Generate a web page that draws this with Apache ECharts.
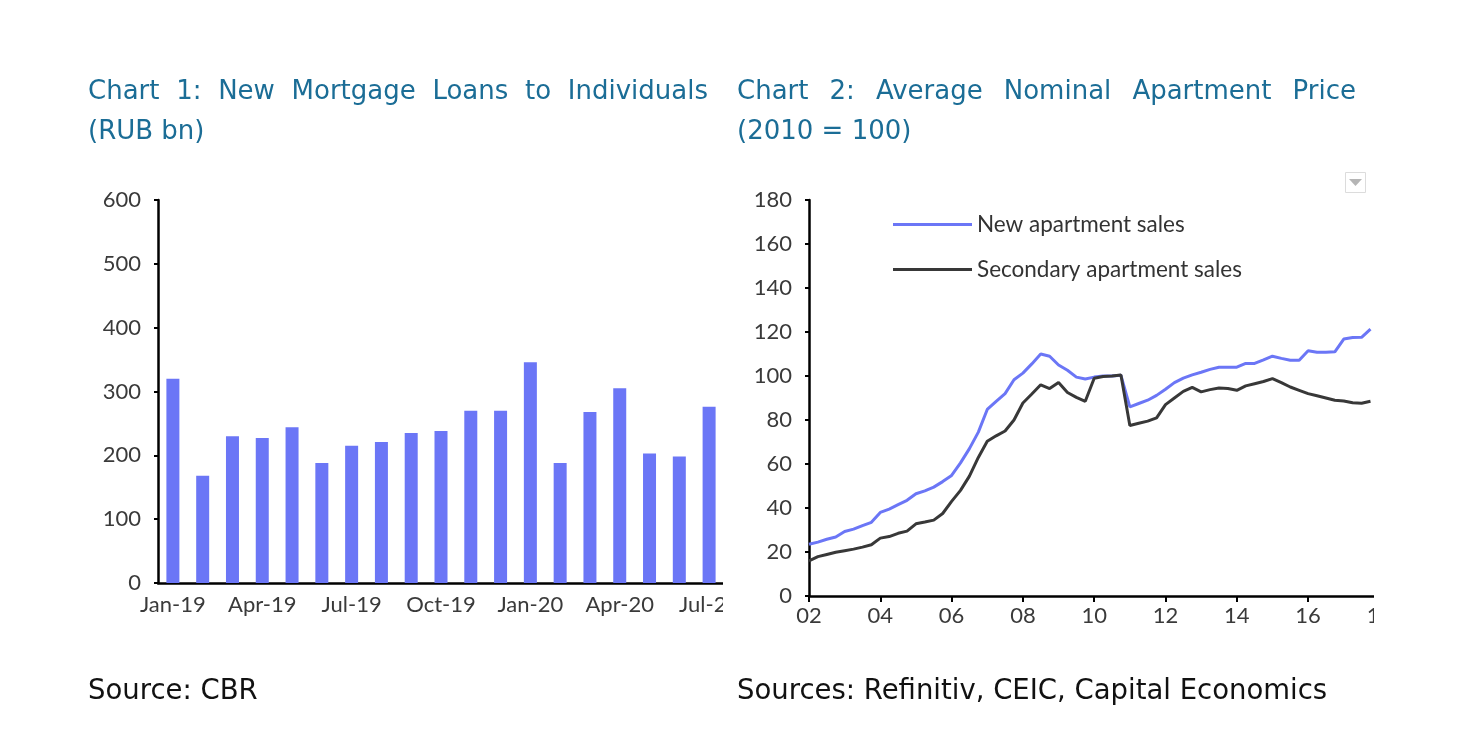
<!DOCTYPE html>
<html><head><meta charset="utf-8">
<script src="https://cdn.jsdelivr.net/npm/echarts@6/dist/echarts.min.js"></script>
<style>
html,body{margin:0;padding:0;background:#fff;width:1472px;height:740px;overflow:hidden}
#c1{position:absolute;left:0;top:0;width:723px;height:740px}
#c2{position:absolute;left:730px;top:0;width:644px;height:740px}
</style></head><body>
<div id="c1"></div><div id="c2"></div>
<script>
// ---------- data ----------
const loanMonths = ['Jan-19','Feb-19','Mar-19','Apr-19','May-19','Jun-19','Jul-19','Aug-19','Sep-19','Oct-19','Nov-19','Dec-19','Jan-20','Feb-20','Mar-20','Apr-20','May-20','Jun-20','Jul-20'];
const loanValues = [320,168,230,227,244,188,215,221,235,238,270,270,346,188,268,305,203,198,276];

const priceQuarters = [
 '2002Q1','2002Q2','2002Q3','2002Q4','2003Q1','2003Q2','2003Q3','2003Q4',
 '2004Q1','2004Q2','2004Q3','2004Q4','2005Q1','2005Q2','2005Q3','2005Q4',
 '2006Q1','2006Q2','2006Q3','2006Q4','2007Q1','2007Q2','2007Q3','2007Q4',
 '2008Q1','2008Q2','2008Q3','2008Q4','2009Q1','2009Q2','2009Q3','2009Q4',
 '2010Q1','2010Q2','2010Q3','2010Q4','2011Q1','2011Q2','2011Q3','2011Q4',
 '2012Q1','2012Q2','2012Q3','2012Q4','2013Q1','2013Q2','2013Q3','2013Q4',
 '2014Q1','2014Q2','2014Q3','2014Q4','2015Q1','2015Q2','2015Q3','2015Q4',
 '2016Q1','2016Q2','2016Q3','2016Q4','2017Q1','2017Q2','2017Q3','2017Q4'];
const newSales = [
 23.5,24.5,25.8,26.8, 29.3,30.4,32,33.5, 38,39.5,41.5,43.5, 46.5,47.8,49.5,52,
 54.8,60.5,67,74.5, 84.8,88.5,92,98.3, 101.3,105.5,110,109, 105,102.6,99.5,98.6,
 99.5,100,100,100.3, 86,87.5,89,91.2, 94,97,99,100.5, 101.7,103,104,104,
 104,105.7,105.7,107.3, 109,108,107.2,107.2, 111.5,110.8,110.8,111, 116.8,117.5,117.6,121.3];
const secondarySales = [
 16,17.9,18.9,19.9, 20.6,21.3,22.2,23.3, 26.3,27,28.5,29.5, 32.8,33.6,34.5,37.5,
 43,48,54.5,63, 70.3,72.8,75,80, 87.7,91.8,96,94.3, 97,92.5,90.3,88.5,
 99,99.8,100,100.5, 77.5,78.5,79.5,81, 87,90,93,94.8, 92.8,93.8,94.5,94.3,
 93.5,95.5,96.5,97.5, 98.8,97,95,93.5, 92,91,90,89, 88.6,87.8,87.6,88.5];

const seriesNames = ['New apartment sales','Secondary apartment sales'];
const title1 = ['Chart 1: New Mortgage Loans to Individuals','(RUB bn)'];
const title2 = ['Chart 2: Average Nominal Apartment Price','(2010 = 100)'];
const source1 = 'Source: CBR';
const source2 = 'Sources: Refinitiv, CEIC, Capital Economics';

// ---------- styling helpers ----------
const TITLE_COLOR = '#1b6d96';
const TITLE_FONT = '26px "DejaVu Sans"';
const SOURCE_FONT = '27.5px "DejaVu Sans"';
const AXIS_FONT = 'Lato';
const mctx = document.createElement('canvas').getContext('2d');
mctx.font = TITLE_FONT;
function justified(line, x0, width, y){
  const words = line.split(' ');
  const ws = words.map(w => mctx.measureText(w).width);
  const gap = (width - ws.reduce((a,b)=>a+b,0)) / (words.length - 1);
  let x = x0;
  return words.map((w,i) => {
    const el = {type:'text', x:x, y:y, style:{text:w, font:TITLE_FONT, fill:TITLE_COLOR, textVerticalAlign:'middle', verticalAlign:'middle'}};
    x += ws[i] + gap;
    return el;
  });
}
function plain(text, x, y, color, font){
  return {type:'text', x:x, y:y, style:{text:text, font:font || TITLE_FONT, fill:color, textVerticalAlign:'middle', verticalAlign:'middle'}};
}
const axisLineStyle = {color:'#000', width:2.5};
const labelStyle = {color:'#3a3a3a', fontFamily:AXIS_FONT, fontSize:22};

// ---------- chart 1 ----------
const ch1 = echarts.init(document.getElementById('c1'), null, {renderer:'canvas'});
ch1.setOption({
  animation:false,
  backgroundColor:'#fff',
  graphic: [].concat(
    justified(title1[0], 88, 620, 92),
    [plain(title1[1], 88, 132, TITLE_COLOR), plain(source1, 88, 692, '#111', SOURCE_FONT)]
  ),
  grid:{left:158, top:200, width:566, height:383, containLabel:false, outerBoundsMode:'none'},
  xAxis:{
    type:'category', data:loanMonths,
    axisLine:{lineStyle:axisLineStyle},
    axisTick:{interval:2, length:6, lineStyle:{color:'#000', width:2}},
    axisLabel:{interval:2, margin:11, ...labelStyle},
    splitLine:{show:false}
  },
  yAxis:{
    type:'value', min:0, max:600, interval:100,
    axisLine:{show:true, lineStyle:axisLineStyle},
    axisTick:{show:true, length:4, lineStyle:{color:'#000', width:2}},
    axisLabel:{margin:17, ...labelStyle},
    splitLine:{show:false}
  },
  series:[{type:'bar', data:loanValues, barWidth:13, itemStyle:{color:'#6b76f6'}}]
});

// ---------- chart 2 ----------
const qx = priceQuarters.map(q => +q.slice(0,4) + (+q.slice(5) - 1) / 4);
const ch2 = echarts.init(document.getElementById('c2'), null, {renderer:'canvas'});
ch2.setOption({
  animation:false,
  backgroundColor:'#fff',
  graphic: [].concat(
    justified(title2[0], 7, 619, 92),
    [plain(title2[1], 7, 132, TITLE_COLOR), plain(source2, 7, 692, '#111', SOURCE_FONT),
     {type:'rect', shape:{x:615.5, y:172.5, width:20, height:20}, style:{fill:'#fff', stroke:'#dcdcdc', lineWidth:1}},
     {type:'polygon', shape:{points:[[619,179],[632,179],[625.5,186]]}, style:{fill:'#b5b5b5'}}]
  ),
  legend:{
    orient:'vertical', left:163, top:213, padding:0, icon:'rect', itemWidth:79, itemHeight:3, itemGap:22,
    textStyle:{color:'#333', fontFamily:AXIS_FONT, fontSize:22.5, lineHeight:22},
    data:seriesNames
  },
  grid:{left:79, top:200, width:570.4, height:396, containLabel:false, outerBoundsMode:'none'},
  xAxis:{
    type:'value', min:2002, max:2018, interval:2,
    axisLine:{lineStyle:axisLineStyle},
    axisTick:{length:6, lineStyle:{color:'#000', width:2}},
    axisLabel:{margin:9, formatter:v => String(v % 100).padStart(2,'0'), ...labelStyle},
    splitLine:{show:false}
  },
  yAxis:{
    type:'value', min:0, max:180, interval:20,
    axisLine:{show:true, lineStyle:axisLineStyle},
    axisTick:{show:true, length:4, lineStyle:{color:'#000', width:2}},
    axisLabel:{margin:17, ...labelStyle},
    splitLine:{show:false}
  },
  series:[
    {name:seriesNames[0], type:'line', symbol:'none', data:qx.map((x,i)=>[x,newSales[i]]), lineStyle:{color:'#6b76f6', width:3}, itemStyle:{color:'#6b76f6'}},
    {name:seriesNames[1], type:'line', symbol:'none', data:qx.map((x,i)=>[x,secondarySales[i]]), lineStyle:{color:'#383838', width:3}, itemStyle:{color:'#383838'}}
  ]
});
</script>
</body></html>
